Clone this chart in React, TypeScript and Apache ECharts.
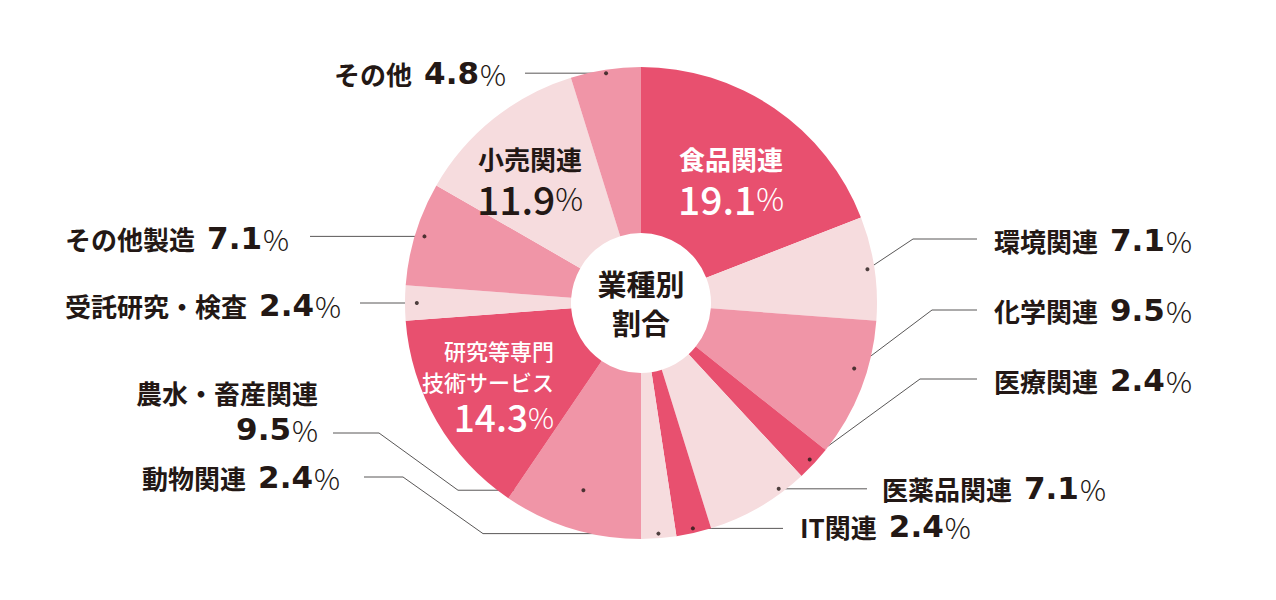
import React, { useEffect, useRef } from "react";
import * as echarts from "echarts";

// ---- data ----
const categories = [
  "食品関連",
  "環境関連",
  "化学関連",
  "医療関連",
  "医薬品関連",
  "IT関連",
  "動物関連",
  "農水・畜産関連",
  "研究等専門\n技術サービス",
  "受託研究・検査",
  "その他製造",
  "小売関連",
  "その他",
];
const values = [19.1, 7.1, 9.5, 2.4, 7.1, 2.4, 2.4, 9.5, 14.3, 2.4, 7.1, 11.9, 4.8];
const shades = ["dark", "light", "mid", "dark", "light", "dark", "light", "mid", "dark", "light", "mid", "light", "mid"];
const centerTitle = "業種別\n割合";

// ---- styles / layout ----
const palette: Record<string, string> = { dark: "#e8506f", mid: "#f095a7", light: "#f6dcde" };
const INK = "#231815";
const LINE = "#595757";
const FONT = '"Noto Sans CJK JP", "Noto Sans", sans-serif';
const NUM_FONT = '"DejaVu Sans", "Noto Sans", sans-serif';
const CX = 641;
const CY = 303;
const R_OUT = 236;
const R_IN = 70;

type Place = {
  kind: string;
  x: number;
  y: number;
  align: string;
  dot?: number;
  shift?: number;
  path?: number[][];
};

const placement: Place[] = [
  { kind: "in-w", x: 731, y: 180, align: "center" },
  { kind: "out", x: 994, y: 240, align: "left", dot: 0.97, shift: 0, path: [[913, 239], [977, 239]] },
  { kind: "out", x: 994, y: 310, align: "left", dot: 0.945, shift: -1.2, path: [[932, 310], [977, 310]] },
  { kind: "out", x: 994, y: 380, align: "left", dot: 0.975, shift: 0, path: [[920, 379], [977, 379]] },
  { kind: "out", x: 882, y: 488, align: "left", dot: 0.98, shift: -1.8, path: [[867]] },
  { kind: "out", x: 800, y: 526, align: "left", dot: 0.98, shift: 0, path: [[783]] },
  { kind: "out", x: 340, y: 477, align: "right", dot: 0.98, shift: 0, path: [[483], [403, 477], [364, 477]] },
  { kind: "out2", x: 318, y: 412, align: "right", dot: 0.83, shift: 0, path: [[458], [379, 433], [333, 433]] },
  { kind: "in-s", x: 554, y: 385, align: "right" },
  { kind: "out", x: 341, y: 305, align: "right", dot: 0.95, shift: 0, path: [[360]] },
  { kind: "out", x: 289, y: 238, align: "right", dot: 0.96, shift: 0, path: [[310]] },
  { kind: "in-d", x: 530, y: 180, align: "center" },
  { kind: "out", x: 506, y: 73, align: "right", dot: 0.985, shift: 0, path: [[525]] },
];

export default function App() {
  const ref = useRef<HTMLDivElement>(null);

  useEffect(() => {
    if (!ref.current) return;
    const chart = echarts.init(ref.current, undefined, { renderer: "svg" });

    const total = values.reduce((a, b) => a + b, 0);
    const cumMid: number[] = [];
    let acc = 0;
    values.forEach((v) => {
      cumMid.push(((acc + v / 2) / total) * 100);
      acc += v;
    });
    const dotPct = (i: number) => cumMid[i] + (placement[i].shift || 0);
    const dotXY = (i: number) => {
      const th = (dotPct(i) / 100) * Math.PI * 2;
      const r = R_OUT * (placement[i].dot || 1);
      return [CX + r * Math.sin(th), CY - r * Math.cos(th)];
    };

    const pieData = categories.map((name, i) => {
      const inside = placement[i].kind.startsWith("in");
      return {
        name,
        value: values[i],
        itemStyle: { color: palette[shades[i]] },
        label: { position: inside ? "inside" : "outside" },
        labelLine: { show: !inside },
      };
    });

    const dotData = placement
      .map((p, i) => (p.kind.startsWith("out") ? [p.dot, dotPct(i)] : null))
      .filter((d) => d !== null);

    const tok = (family: string, size: number, weight: any, color: string, lh: number, extra: any = {}) => ({
      fontFamily: family,
      fontSize: size,
      fontWeight: weight,
      color,
      lineHeight: lh,
      ...extra,
    });

    chart.setOption({
      animation: false,
      backgroundColor: "#ffffff",
      polar: { center: [CX, CY], radius: [0, R_OUT] },
      angleAxis: {
        type: "value",
        min: 0,
        max: 100,
        startAngle: 90,
        clockwise: true,
        show: false,
        axisLine: { show: false },
        splitLine: { show: false },
        axisLabel: { show: false },
        axisTick: { show: false },
      },
      radiusAxis: {
        type: "value",
        min: 0,
        max: 1,
        show: false,
        axisLine: { show: false },
        splitLine: { show: false },
        axisLabel: { show: false },
        axisTick: { show: false },
      },
      graphic: [
        {
          type: "text",
          x: CX,
          y: CY - 1,
          z: 20,
          style: {
            text: centerTitle,
            fontFamily: FONT,
            fontSize: 29,
            fontWeight: "bold",
            fill: INK,
            align: "center",
            verticalAlign: "middle",
            lineHeight: 39,
          },
        },
      ],
      series: [
        {
          type: "pie",
          center: [CX, CY],
          radius: [R_IN, R_OUT],
          startAngle: 90,
          clockwise: true,
          avoidLabelOverlap: false,
          silent: true,
          emphasis: { disabled: true },
          itemStyle: { borderWidth: 0 },
          data: pieData,
          label: {
            show: true,
            width: 500,
            overflow: "none",
            formatter: (params: any) => {
              const i = params.dataIndex;
              const k = placement[i].kind;
              const v = values[i].toFixed(1);
              const name = categories[i];
              if (k === "in-w") return `{wn|${name}}\n{wv|${v}}{wp|%}`;
              if (k === "in-d") return `{dn|${name}}\n{dv|${v}}{dp|%}`;
              if (k === "in-s")
                return name.split("\n").map((s) => `{sn|${s}}`).join("\n") + `\n{sv|${v}}{sp|%}`;
              if (k === "out2") return `{n2|${name}}\n{v2|${v}}{p|%}`;
              return `{n|${name}}{v|${v}}{p|%}`;
            },
            rich: {
              n: tok(FONT, 26, "bold", INK, 40),
              n2: tok(FONT, 26, "bold", INK, 34),
              v: tok(NUM_FONT, 31, "bold", INK, 40, { padding: [0, 0, 0, 12] }),
              v2: tok(NUM_FONT, 31, "bold", INK, 40),
              p: tok(FONT, 29, 300, INK, 40, { padding: [0, 0, 0, 1] }),
              wn: tok(FONT, 26, "bold", "#ffffff", 35),
              wv: tok(FONT, 39, 500, "#ffffff", 43),
              wp: tok(FONT, 31, 300, "#ffffff", 43),
              dn: tok(FONT, 26, "bold", INK, 35),
              dv: tok(FONT, 39, 500, INK, 43),
              dp: tok(FONT, 31, 300, INK, 43),
              sn: tok(FONT, 22, 500, "#ffffff", 31),
              sv: tok(FONT, 37, 500, "#ffffff", 39),
              sp: tok(FONT, 29, 300, "#ffffff", 39),
            },
          },
          labelLine: { show: true, lineStyle: { color: LINE, width: 1 } },
          labelLayout: (params: any) => {
            const i = params.dataIndex;
            const p = placement[i];
            const out: any = { x: p.x, y: p.y, align: p.align, verticalAlign: "middle" };
            if (p.kind.startsWith("out")) {
              const d = dotXY(i);
              out.labelLinePoints = [d, ...(p.path || []).map((q) => [q[0], q.length > 1 ? q[1] : d[1]])];
            }
            return out;
          },
        },
        {
          type: "scatter",
          coordinateSystem: "polar",
          symbol: "circle",
          symbolSize: 4,
          silent: true,
          z: 5,
          itemStyle: { color: INK },
          data: dotData,
        },
      ],
    });

    return () => chart.dispose();
  }, []);

  return (
    <div
      ref={ref}
      style={{ position: "fixed", left: 0, top: 0, width: 1276, height: 600, background: "#ffffff" }}
    />
  );
}
